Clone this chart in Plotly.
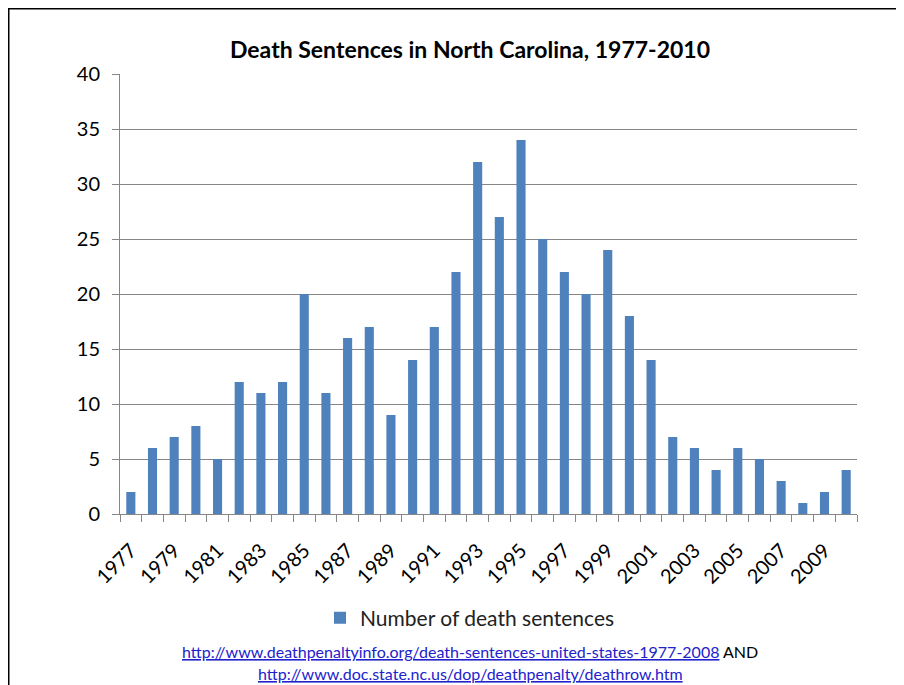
import plotly.graph_objects as go

years = list(range(1977, 2011))
sentences = [2, 6, 7, 8, 5, 12, 11, 12, 20, 11, 16, 17, 9, 14, 17, 22, 32, 27,
             34, 25, 22, 20, 24, 18, 14, 7, 6, 4, 6, 5, 3, 1, 2, 4]
label_years = list(range(1977, 2011, 2))
y_ticks = [0, 5, 10, 15, 20, 25, 30, 35, 40]

# page has an 8px body margin: work in page pixels and offset by it
OFF = 8
W, H = 904 - OFF, 685 - OFF
L, R, T, B = 120 - OFF, 47, 74 - OFF, 171
pw, ph = W - L - R, H - T - B

def px(x):
    return (x - OFF - L) / pw

def py(y):
    return (H - B - (y - OFF)) / ph

FONT = "Lato, 'Open Sans', sans-serif"

fig = go.Figure()
fig.add_trace(go.Bar(
    x=years, y=sentences, name="Number of death sentences",
    marker=dict(color="#4F81BD", line=dict(width=0)),
    width=0.42,
))

fig.update_layout(
    width=W, height=H,
    margin=dict(l=L, r=R, t=T, b=B),
    paper_bgcolor="white", plot_bgcolor="white",
    font=dict(family=FONT, color="#000000"),
    showlegend=True,
    legend=dict(orientation="h", x=px(470), xanchor="center", y=py(618), yanchor="middle",
                font=dict(size=21, family=FONT, color="#222"), itemwidth=30),
    title=dict(text="<b>Death Sentences in North Carolina, 1977-2010</b>",
               x=px(470), xref="paper", xanchor="center",
               y=1 - (50 - OFF) / H, yref="container", yanchor="middle",
               font=dict(size=23, family=FONT, color="#000")),
    bargap=0.58,
)

fig.update_xaxes(
    range=[1976.5, 2010.5],
    tickmode="array", tickvals=label_years, ticktext=[str(y) for y in label_years],
    tickangle=-45, ticks="", tickfont=dict(size=20, family=FONT, color="#000"),
    showgrid=False, showline=True, linecolor="#868686", linewidth=1,
    minor=dict(tickmode="linear", tick0=1976.5, dtick=1, ticks="outside",
               ticklen=7, tickcolor="#868686", tickwidth=1, showgrid=False),
    zeroline=False, ticklabelstandoff=16,
)
fig.update_yaxes(
    range=[0, 40], tickmode="array", tickvals=y_ticks,
    ticks="outside", ticklen=7, tickcolor="#868686",
    tickfont=dict(size=20, family=FONT, color="#000"),
    showgrid=True, gridcolor="#868686", gridwidth=1,
    showline=True, linecolor="#868686", linewidth=1,
    zeroline=False, ticklabelstandoff=8,
)

# frame border
fig.add_shape(type="line", xref="paper", yref="paper",
              x0=px(8), x1=px(904), y0=py(8), y1=py(8),
              line=dict(color="black", width=3))
fig.add_shape(type="line", xref="paper", yref="paper",
              x0=px(8), x1=px(8), y0=py(8), y1=py(685),
              line=dict(color="black", width=3))

fig.add_annotation(
    xref="paper", yref="paper", x=px(470), y=py(651), xanchor="center", yanchor="middle",
    showarrow=False, font=dict(size=16, family=FONT, color="#000"),
    text="<span style='color:#2222CC'><u>http://www.deathpenaltyinfo.org/death-sentences-united-states-1977-2008</u></span> AND",
)
fig.add_annotation(
    xref="paper", yref="paper", x=px(470), y=py(673), xanchor="center", yanchor="middle",
    showarrow=False, font=dict(size=16, family=FONT, color="#2222CC"),
    text="<u>http://www.doc.state.nc.us/dop/deathpenalty/deathrow.htm</u>",
)

fig.write_html("out.html")
